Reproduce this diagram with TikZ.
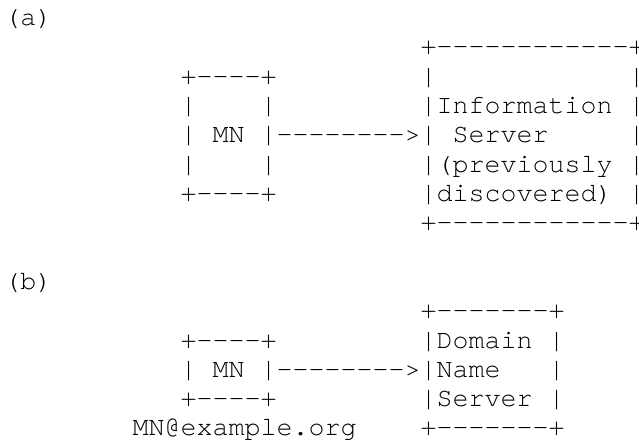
\documentclass[tikz,border=0pt]{standalone}
\usepackage{fontspec}
\setmonofont{TeX Gyre Cursor}

\tikzset{every picture/.style={line width=0.75pt}}
\tikzset{ascii/.style={anchor=base west,inner sep=0pt,font=\ttfamily\fontsize{20}{24}\selectfont}}

\begin{document}
\begin{tikzpicture}[x=0.75pt,y=0.75pt,yscale=-1,xscale=1]
\path[use as bounding box] (0,0) rectangle (639,442);

% Text Node
\draw (4,25.7) node [ascii] (labela) {(a)};
% Text Node
\draw (420,55) node [ascii] (istop) {+------------+};
% Text Node
\draw (180,84.3) node [ascii] (mnatop) {+----+};
% Text Node
\draw (420,84.3) node [ascii] (isrowa) {|~~~~~~~~~~~~|};
% Text Node
\draw (180,113.6) node [ascii] (mnarowa) {|~~~~|};
% Text Node
\draw (420,113.6) node [ascii] (isrowb) {|Information~|};
% Text Node
\draw (180,142.9) node [ascii] (mnarowb) {|~MN~|-------->|~Server~~~~~|};
% Text Node
\draw (180,172.2) node [ascii] (mnarowc) {|~~~~|};
% Text Node
\draw (420,172.2) node [ascii] (isrowc) {|(previously~|};
% Text Node
\draw (180,201.5) node [ascii] (mnabot) {+----+};
% Text Node
\draw (420,201.5) node [ascii] (isrowd) {|discovered)~|};
% Text Node
\draw (420,230.8) node [ascii] (isbot) {+------------+};

% Text Node
\draw (4,289.4) node [ascii] (labelb) {(b)};
% Text Node
\draw (420,318.7) node [ascii] (dnstop) {+-------+};
% Text Node
\draw (180,348) node [ascii] (mnbtop) {+----+};
% Text Node
\draw (420,348) node [ascii] (dnsrowa) {|Domain~|};
% Text Node
\draw (180,377.3) node [ascii] (mnbrow) {|~MN~|-------->|Name~~~|};
% Text Node
\draw (180,406.6) node [ascii] (mnbbot) {+----+};
% Text Node
\draw (420,406.6) node [ascii] (dnsrowc) {|Server~|};
% Text Node
\draw (132,435.9) node [ascii] (mnaddr) {MN@example.org};
% Text Node
\draw (420,435.9) node [ascii] (dnsbot) {+-------+};

\end{tikzpicture}
\end{document}
